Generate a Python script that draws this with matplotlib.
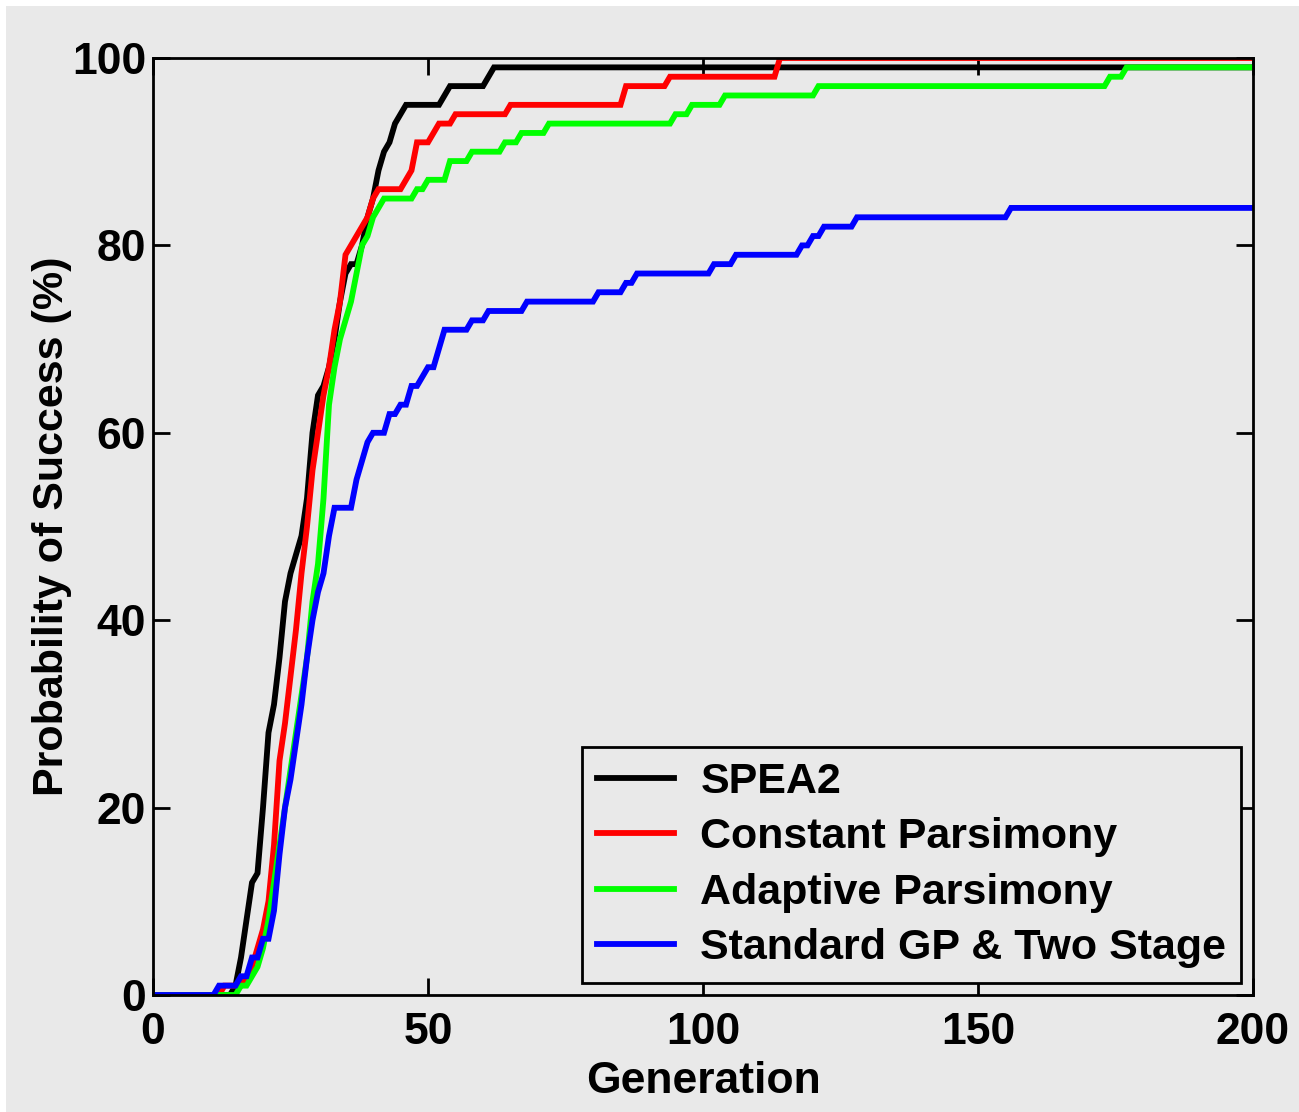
import numpy as np
import matplotlib
matplotlib.use("Agg")
import matplotlib.pyplot as plt
from matplotlib.patches import Rectangle

# change points: generation where the value changes, and new value (%)
spea2_gen = [0, 15, 16, 17, 18, 19, 20, 21, 22, 23, 24, 25, 26, 27, 28, 29, 30, 31, 32, 33, 34,
             35, 36, 38, 39, 40, 41, 42, 43, 44, 45, 46, 53, 54, 61, 62]
spea2_val = [0, 1, 4, 8, 12, 13, 20, 28, 31, 36, 42, 45, 47, 49, 53, 60, 64, 65, 67, 70, 74,
             77, 78, 80, 83, 85, 88, 90, 91, 93, 94, 95, 96, 97, 98, 99]

const_gen = [0, 13, 17, 18, 19, 20, 21, 22, 23, 24, 25, 26, 27, 28, 29, 30, 31, 32, 33, 34, 35,
             36, 37, 38, 39, 40, 41, 46, 47, 48, 51, 52, 55, 65, 86, 94, 114]
const_val = [0, 1, 2, 3, 5, 7, 10, 16, 25, 29, 34, 39, 45, 50, 56, 60, 64, 67, 71, 74, 79,
             80, 81, 82, 83, 85, 86, 87, 88, 91, 92, 93, 94, 95, 97, 98, 100]

adapt_gen = [0, 16, 18, 19, 20, 21, 22, 23, 24, 25, 26, 27, 28, 29, 30, 31, 32, 33, 34, 35, 36,
             37, 38, 39, 40, 41, 42, 48, 50, 54, 58, 64, 67, 72, 95, 98, 104, 121, 174, 177]
adapt_val = [0, 1, 2, 3, 5, 8, 12, 16, 20, 24, 28, 32, 36, 42, 46, 53, 63, 67, 70, 72, 74,
             77, 80, 81, 83, 84, 85, 86, 87, 89, 90, 91, 92, 93, 94, 95, 96, 97, 98, 99]

std_gen = [0, 12, 16, 18, 20, 22, 23, 24, 25, 26, 27, 28, 29, 30, 31, 32, 33, 37, 38, 39, 40,
           43, 45, 47, 49, 50, 52, 53, 58, 61, 68, 81, 86, 88, 102, 106, 118, 120, 122, 128, 156]
std_val = [0, 1, 2, 4, 6, 9, 15, 20, 23, 27, 31, 36, 40, 43, 45, 49, 52, 55, 57, 59, 60,
           62, 63, 65, 66, 67, 69, 71, 72, 73, 74, 75, 76, 77, 78, 79, 80, 81, 82, 83, 84]

labels = ['SPEA2', 'Constant Parsimony', 'Adaptive Parsimony', 'Standard GP & Two Stage']
colors = ['#000000', '#ff0000', '#00ff00', '#0000ff']

generations = np.arange(0, 201)


def per_generation(gens, vals):
    # hold each value until the next change point
    idx = np.searchsorted(gens, generations, side='right') - 1
    return np.array(vals)[idx]


plt.rcParams['font.family'] = ['Liberation Sans', 'DejaVu Sans']
plt.rcParams['font.weight'] = 'bold'

bg = '#e9e9e9'
fig = plt.figure(figsize=(12.99, 11.12), dpi=100, facecolor='white')
fig.patches.append(Rectangle((6 / 1299, 0), 1 - 6 / 1299, 1 - 6 / 1112,
                             transform=fig.transFigure, facecolor=bg, edgecolor='none', zorder=-1))
ax = fig.add_axes([153 / 1299, 1 - 995 / 1112, 1100 / 1299, 937 / 1112])
ax.set_facecolor(bg)

series = [(spea2_gen, spea2_val), (const_gen, const_val), (adapt_gen, adapt_val), (std_gen, std_val)]
for (g, v), lab, c in zip(series, labels, colors):
    ax.plot(generations, per_generation(g, v), color=c, lw=4.2, label=lab,
            solid_joinstyle='miter')

ax.set_xlim(0, 200)
ax.set_ylim(0, 100)
ax.set_xticks([0, 50, 100, 150, 200])
ax.set_yticks([0, 20, 40, 60, 80, 100])
ax.tick_params(direction='in', length=12, width=2, labelsize=32,
               top=True, right=True)
ax.tick_params(axis='y', pad=5)
ax.tick_params(axis='x', pad=12)
for s in ax.spines.values():
    s.set_linewidth(2)

ax.set_xlabel('Generation', fontsize=32, fontweight='bold', labelpad=6)
ax.set_ylabel('Probability of Success (%)', fontsize=31, fontweight='bold', labelpad=0)

leg = ax.legend(loc='lower right', fontsize=31, frameon=True, fancybox=False,
                handlelength=1.8, handletextpad=0.6, labelspacing=0.36,
                borderaxespad=0.27, borderpad=0.35)
leg.get_frame().set_edgecolor('black')
leg.get_frame().set_linewidth(2)
leg.get_frame().set_facecolor(bg)
leg.get_frame().set_alpha(1)

fig.savefig('out.png', dpi=100, facecolor=fig.get_facecolor())
